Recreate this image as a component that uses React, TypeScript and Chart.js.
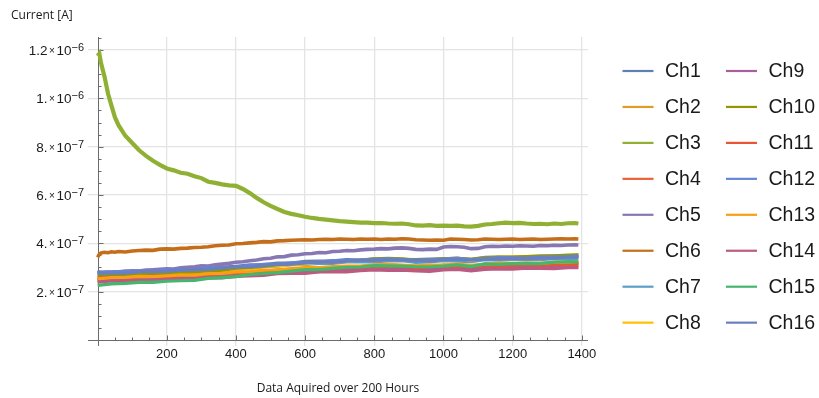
import React, { useEffect, useRef } from 'react';
import { Chart, registerables } from 'chart.js';

Chart.register(...registerables);

// values are in units of 1e-7 A
const UNIT = 1e-7;

const X_FINE = [0, 5, 10, 20, 30, 40, 50, 60, 80, 100, 120, 140, 160, 180, 200, 220, 240, 260, 280, 300, 320, 340, 360, 380, 400, 420, 440, 460, 480, 500, 520, 540, 560, 580, 600, 620, 640, 660, 680, 700, 720, 740, 760, 780, 800, 820, 840, 860, 880, 900, 920, 940, 960, 980, 1000, 1020, 1040, 1060, 1080, 1100, 1120, 1140, 1160, 1180, 1200, 1220, 1240, 1260, 1280, 1300, 1320, 1340, 1360, 1380, 1390];

const X_BAND = [0, 40, 80, 120, 160, 200, 240, 280, 320, 360, 400, 440, 480, 520, 560, 600, 640, 680, 720, 760, 800, 840, 880, 920, 960, 1000, 1040, 1080, 1120, 1160, 1200, 1240, 1280, 1320, 1360, 1390];

const CH3 = [11.75, 11.85, 11.45, 10.90, 10.20, 9.70, 9.22, 8.90, 8.45,
  8.15, 7.85, 7.62, 7.42, 7.25, 7.10, 7.02, 6.92, 6.88, 6.78,
  6.70, 6.55, 6.50, 6.44, 6.40, 6.38, 6.25, 6.08, 5.88, 5.70,
  5.55, 5.42, 5.30, 5.22, 5.16, 5.10, 5.05, 5.01, 4.98, 4.95,
  4.92, 4.90, 4.88, 4.86, 4.86, 4.84, 4.84, 4.82, 4.81, 4.82,
  4.79, 4.74, 4.73, 4.75, 4.72, 4.73, 4.72, 4.73, 4.70, 4.69,
  4.72, 4.78, 4.80, 4.83, 4.86, 4.84, 4.85, 4.82, 4.80, 4.81,
  4.79, 4.82, 4.80, 4.83, 4.84, 4.82];

const CH6 = [3.42, 3.55, 3.60, 3.63, 3.61, 3.65, 3.63, 3.66, 3.64,
  3.68, 3.70, 3.72, 3.71, 3.76, 3.77, 3.76, 3.79, 3.80, 3.83,
  3.84, 3.86, 3.90, 3.92, 3.93, 3.98, 3.99, 4.02, 4.04, 4.07,
  4.06, 4.10, 4.11, 4.13, 4.14, 4.15, 4.14, 4.16, 4.17, 4.16,
  4.18, 4.17, 4.16, 4.18, 4.17, 4.18, 4.16, 4.18, 4.17, 4.19,
  4.18, 4.15, 4.14, 4.13, 4.14, 4.13, 4.18, 4.17, 4.16, 4.14,
  4.15, 4.18, 4.17, 4.16, 4.17, 4.18, 4.16, 4.17, 4.18, 4.16,
  4.17, 4.18, 4.19, 4.18, 4.19, 4.18];

const CH5 = [2.78, 2.80, 2.76, 2.79, 2.81, 2.78, 2.82, 2.80, 2.84,
  2.86, 2.85, 2.89, 2.90, 2.93, 2.95, 2.94, 2.99, 3.01, 3.03,
  3.07, 3.06, 3.11, 3.14, 3.17, 3.22, 3.24, 3.28, 3.31, 3.36,
  3.38, 3.44, 3.45, 3.51, 3.53, 3.57, 3.58, 3.62, 3.61, 3.66,
  3.67, 3.70, 3.69, 3.73, 3.75, 3.76, 3.78, 3.77, 3.80, 3.81,
  3.79, 3.75, 3.74, 3.76, 3.75, 3.85, 3.87, 3.86, 3.84, 3.78,
  3.79, 3.86, 3.88, 3.87, 3.89, 3.88, 3.90, 3.89, 3.88, 3.91,
  3.90, 3.92, 3.91, 3.93, 3.94, 3.93];

const CH1 = [2.82, 2.81, 2.85, 2.84, 2.90, 2.90, 2.91, 2.97, 2.96, 3.02, 3.05, 3.11, 3.12, 3.18, 3.18, 3.25, 3.26, 3.27, 3.33, 3.31, 3.36, 3.36, 3.34, 3.33, 3.35, 3.36, 3.39, 3.32, 3.42, 3.41, 3.41, 3.44, 3.42, 3.48, 3.47, 3.47];
const CH2 = [2.53, 2.53, 2.58, 2.58, 2.58, 2.63, 2.66, 2.66, 2.70, 2.75, 2.75, 2.82, 2.85, 2.90, 2.91, 2.97, 2.96, 3.00, 3.04, 3.04, 3.09, 3.08, 3.07, 3.06, 3.03, 3.10, 3.10, 3.05, 3.14, 3.13, 3.12, 3.16, 3.17, 3.17, 3.21, 3.20];
const CH4 = [2.50, 2.50, 2.51, 2.56, 2.54, 2.59, 2.60, 2.64, 2.65, 2.71, 2.73, 2.75, 2.82, 2.87, 2.88, 2.90, 2.95, 2.98, 2.97, 3.01, 3.04, 3.03, 3.06, 3.00, 3.00, 3.07, 3.04, 3.03, 3.08, 3.10, 3.08, 3.11, 3.14, 3.13, 3.16, 3.16];
const CH7 = [2.70, 2.74, 2.73, 2.77, 2.76, 2.81, 2.82, 2.87, 2.86, 2.92, 2.97, 2.98, 3.03, 3.05, 3.12, 3.13, 3.17, 3.17, 3.23, 3.23, 3.23, 3.27, 3.28, 3.21, 3.23, 3.28, 3.26, 3.24, 3.32, 3.30, 3.33, 3.33, 3.32, 3.37, 3.39, 3.38];
const CH8 = [2.56, 2.58, 2.59, 2.64, 2.68, 2.68, 2.72, 2.78, 2.79, 2.86, 2.90, 2.94, 3.04, 3.07, 3.12, 3.15, 3.22, 3.23, 3.25, 3.31, 3.33, 3.36, 3.33, 3.29, 3.28, 3.35, 3.39, 3.30, 3.41, 3.41, 3.44, 3.43, 3.45, 3.49, 3.47, 3.53];
const CH9 = [2.46, 2.46, 2.50, 2.50, 2.50, 2.55, 2.57, 2.57, 2.61, 2.64, 2.65, 2.72, 2.74, 2.76, 2.82, 2.82, 2.83, 2.88, 2.89, 2.93, 2.92, 2.95, 2.92, 2.90, 2.92, 2.97, 2.94, 2.92, 2.98, 2.96, 3.01, 3.00, 3.02, 3.01, 3.03, 3.06];
const CH10 = [2.62, 2.66, 2.69, 2.69, 2.73, 2.77, 2.76, 2.83, 2.86, 2.89, 2.97, 3.00, 3.04, 3.12, 3.15, 3.21, 3.22, 3.26, 3.29, 3.30, 3.36, 3.38, 3.36, 3.30, 3.33, 3.37, 3.37, 3.35, 3.41, 3.44, 3.43, 3.45, 3.48, 3.48, 3.51, 3.52];
const CH11 = [2.55, 2.59, 2.57, 2.60, 2.64, 2.62, 2.66, 2.68, 2.70, 2.75, 2.78, 2.78, 2.84, 2.88, 2.89, 2.94, 2.95, 2.95, 3.00, 3.03, 3.02, 3.04, 3.05, 2.98, 3.03, 3.05, 3.04, 3.03, 3.09, 3.07, 3.09, 3.12, 3.09, 3.13, 3.13, 3.13];
const CH12 = [2.77, 2.82, 2.82, 2.85, 2.84, 2.90, 2.91, 2.92, 2.98, 2.99, 3.01, 3.08, 3.13, 3.14, 3.19, 3.21, 3.22, 3.28, 3.28, 3.32, 3.33, 3.36, 3.33, 3.28, 3.32, 3.35, 3.38, 3.33, 3.37, 3.41, 3.40, 3.39, 3.43, 3.44, 3.44, 3.48];
const CH13 = [2.53, 2.58, 2.59, 2.63, 2.62, 2.65, 2.69, 2.68, 2.74, 2.76, 2.82, 2.83, 2.89, 2.90, 2.95, 3.00, 3.00, 3.04, 3.06, 3.06, 3.11, 3.13, 3.10, 3.07, 3.10, 3.10, 3.14, 3.09, 3.14, 3.18, 3.17, 3.19, 3.17, 3.22, 3.22, 3.25];
const CH14 = [2.39, 2.44, 2.43, 2.43, 2.48, 2.51, 2.49, 2.53, 2.58, 2.57, 2.63, 2.65, 2.67, 2.74, 2.75, 2.76, 2.82, 2.82, 2.82, 2.87, 2.90, 2.88, 2.89, 2.86, 2.84, 2.90, 2.92, 2.86, 2.92, 2.94, 2.93, 2.97, 2.96, 2.95, 2.99, 2.99];
const CH15 = [2.26, 2.32, 2.34, 2.38, 2.38, 2.43, 2.45, 2.47, 2.55, 2.58, 2.62, 2.71, 2.75, 2.79, 2.85, 2.91, 2.91, 2.96, 3.01, 3.02, 3.08, 3.07, 3.06, 3.03, 3.03, 3.06, 3.11, 3.04, 3.15, 3.13, 3.16, 3.17, 3.16, 3.22, 3.24, 3.23];
const CH16 = [2.76, 2.77, 2.77, 2.83, 2.83, 2.84, 2.89, 2.90, 2.92, 2.98, 3.01, 3.02, 3.08, 3.14, 3.14, 3.19, 3.23, 3.21, 3.26, 3.29, 3.29, 3.33, 3.31, 3.28, 3.26, 3.33, 3.33, 3.31, 3.34, 3.36, 3.39, 3.37, 3.40, 3.39, 3.43, 3.43];

const SERIES_NAMES = ['Ch1', 'Ch2', 'Ch3', 'Ch4', 'Ch5', 'Ch6', 'Ch7', 'Ch8', 'Ch9', 'Ch10', 'Ch11', 'Ch12', 'Ch13', 'Ch14', 'Ch15', 'Ch16'];
const SERIES_VALUES = [CH1, CH2, CH3, CH4, CH5, CH6, CH7, CH8, CH9, CH10, CH11, CH12, CH13, CH14, CH15, CH16];
const SERIES_X = [X_BAND, X_BAND, X_FINE, X_BAND, X_FINE, X_FINE, X_BAND, X_BAND, X_BAND, X_BAND, X_BAND, X_BAND, X_BAND, X_BAND, X_BAND, X_BAND];
const SERIES_COLORS = ['#5E81B5', '#E19C24', '#8FB032', '#EB6235', '#8778B3', '#C56E1A', '#5D9EC7', '#FFBF00', '#A5609D', '#929600', '#E95536', '#6685D9', '#F89F13', '#BC5B80', '#47B66D', '#6A7FBF'];

const X_MAJOR_TICKS = [200, 400, 600, 800, 1000, 1200, 1400];
const X_TICK_LABELS = ['200', '400', '600', '800', '1000', '1200', '1400'];
const Y_MAJOR_TICKS = [2, 4, 6, 8, 10, 12]; // in 1e-7 A
const Y_TICK_MANTISSA = ['2.', '4.', '6.', '8.', '1.', '1.2'];
const Y_TICK_EXPONENT = ['\u22127', '\u22127', '\u22127', '\u22127', '\u22126', '\u22126'];

const Y_TITLE = 'Current [A]';
const X_TITLE = 'Data Aquired over 200 Hours';

const AXIS_COLOR = '#6b6b6b';
const TEXT_COLOR = '#1a1a1a';
const TICK_FONT = '"Liberation Sans", Arial, sans-serif';
const TITLE_FONT = '"Open Sans", "Noto Sans", sans-serif';

const decorPlugin = {
  id: 'decor',
  beforeDatasetsDraw(chart: any) {
    const { ctx } = chart;
    const xs = chart.scales.x;
    const ys = chart.scales.y;
    const x0 = Math.round(xs.getPixelForValue(0)) + 0.5;
    const y0 = Math.round(ys.getPixelForValue(0)) + 0.5;
    ctx.save();
    ctx.strokeStyle = AXIS_COLOR;
    ctx.lineWidth = 1;
    ctx.beginPath();
    ctx.moveTo(xs.left, y0);
    ctx.lineTo(xs.right, y0);
    ctx.moveTo(x0, ys.bottom);
    ctx.lineTo(x0, ys.top);
    for (let v = 50; v <= 1400; v += 50) {
      const px = Math.round(xs.getPixelForValue(v)) + 0.5;
      const len = v % 200 === 0 ? 5 : 3;
      ctx.moveTo(px, y0);
      ctx.lineTo(px, y0 - len);
    }
    for (let k = 1; k <= 25; k++) {
      const py = Math.round(ys.getPixelForValue(k * 0.5 * UNIT)) + 0.5;
      const len = k % 4 === 0 ? 5 : 3;
      ctx.moveTo(x0, py);
      ctx.lineTo(x0 + len, py);
    }
    ctx.stroke();
    ctx.restore();
  },
  afterDraw(chart: any) {
    const { ctx } = chart;
    const xs = chart.scales.x;
    const ys = chart.scales.y;
    const y0 = ys.getPixelForValue(0);
    ctx.save();
    ctx.fillStyle = TEXT_COLOR;
    // x tick labels
    ctx.font = `13px ${TICK_FONT}`;
    ctx.textAlign = 'center';
    ctx.textBaseline = 'alphabetic';
    X_MAJOR_TICKS.forEach((v, i) => {
      ctx.fillText(X_TICK_LABELS[i], xs.getPixelForValue(v), y0 + 18);
    });
    // y tick labels with superscript exponent
    const right = 84;
    const MAIN = `13.5px ${TICK_FONT}`;
    const SUP = `11px ${TICK_FONT}`;
    const TIMES = `10px ${TICK_FONT}`;
    Y_MAJOR_TICKS.forEach((v, i) => {
      const py = ys.getPixelForValue(v * UNIT);
      ctx.textAlign = 'left';
      ctx.font = SUP;
      const wExp = ctx.measureText(Y_TICK_EXPONENT[i]).width;
      ctx.font = MAIN;
      const wTen = ctx.measureText('10').width;
      ctx.font = TIMES;
      const wTimes = ctx.measureText('\u00d7').width;
      ctx.font = MAIN;
      const wMan = ctx.measureText(Y_TICK_MANTISSA[i]).width;
      let x = right - wExp;
      ctx.font = SUP;
      ctx.fillText(Y_TICK_EXPONENT[i], x, py + 1);
      x -= wTen;
      ctx.font = MAIN;
      ctx.fillText('10', x, py + 5);
      x -= wTimes + 1.5;
      ctx.font = TIMES;
      ctx.fillText('\u00d7', x, py + 4);
      x -= wMan + 1.5;
      ctx.font = MAIN;
      ctx.fillText(Y_TICK_MANTISSA[i], x, py + 5);
    });
    // titles
    ctx.font = `12px ${TITLE_FONT}`;
    ctx.textAlign = 'left';
    ctx.fillText(Y_TITLE, 11, 19);
    ctx.textAlign = 'center';
    ctx.fillText(X_TITLE, (xs.left + xs.right) / 2, 392);
    // legend
    const ds = chart.data.datasets;
    ctx.font = `19.5px ${TICK_FONT}`;
    ctx.textAlign = 'left';
    ctx.textBaseline = 'middle';
    ds.forEach((d: any, i: number) => {
      const col = Math.floor(i / 8);
      const row = i % 8;
      const cy = 71 + row * 35.95;
      const lx = col === 0 ? 622.5 : 726;
      ctx.strokeStyle = d.borderColor;
      ctx.lineWidth = 2.2;
      ctx.beginPath();
      ctx.moveTo(lx, cy);
      ctx.lineTo(lx + 31, cy);
      ctx.stroke();
      ctx.fillStyle = TEXT_COLOR;
      ctx.fillText(d.label, lx + 42.5, cy + 1);
    });
    ctx.restore();
  },
};

export default function App() {
  const canvasRef = useRef<HTMLCanvasElement>(null);
  useEffect(() => {
    const canvas = canvasRef.current;
    if (!canvas) return;
    const datasets = SERIES_NAMES.map((name, i) => ({
      label: name,
      data: SERIES_X[i].map((x, j) => ({ x, y: SERIES_VALUES[i][j] * UNIT })),
      borderColor: SERIES_COLORS[i],
      backgroundColor: SERIES_COLORS[i],
      borderWidth: i === 2 ? 4.2 : i === 5 || i === 4 ? 3.6 : 3.2,
      pointRadius: 0,
      tension: 0,
      fill: false,
      order: 15 - i,
    }));
    const gridColor = (ctx: any) => (ctx.tick && ctx.tick.value !== 0 ? '#e4e4e4' : 'rgba(0,0,0,0)');
    const chart = new Chart(canvas, {
      type: 'line',
      data: { datasets },
      options: {
        animation: false,
        responsive: true,
        maintainAspectRatio: false,
        layout: { padding: { left: 88, right: 231, top: 37, bottom: 52 } },
        plugins: { legend: { display: false }, tooltip: { enabled: false }, title: { display: false } },
        scales: {
          x: {
            type: 'linear',
            min: -27.8,
            max: 1417.8,
            afterBuildTicks: (scale: any) => {
              scale.ticks = X_MAJOR_TICKS.map((v) => ({ value: v }));
            },
            grid: { color: gridColor, lineWidth: 1.3, drawTicks: false },
            border: { display: false },
            ticks: { display: false },
          },
          y: {
            type: 'linear',
            min: -0.25 * UNIT,
            max: 12.54 * UNIT,
            afterBuildTicks: (scale: any) => {
              scale.ticks = Y_MAJOR_TICKS.map((v) => ({ value: v * UNIT }));
            },
            grid: { color: gridColor, lineWidth: 1.3, drawTicks: false },
            border: { display: false },
            ticks: { display: false },
          },
        },
      },
      plugins: [decorPlugin],
    });
    return () => chart.destroy();
  }, []);
  return (
    <div style={{ position: 'fixed', left: 0, top: 0, width: 819, height: 398, background: '#fff' }}>
      <canvas ref={canvasRef} />
    </div>
  );
}
